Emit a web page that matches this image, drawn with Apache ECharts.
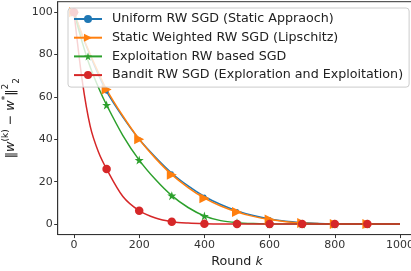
<!DOCTYPE html>
<html>
<head>
<meta charset="utf-8">
<script src="https://cdn.jsdelivr.net/npm/echarts@6/dist/echarts.min.js"></script>
<style>
  html, body { margin: 0; padding: 0; background: #fff; }
  #main { width: 411px; height: 271px; }
</style>
</head>
<body>
<div id="main"></div>
<script>
var rounds = [0, 25, 50, 75, 100, 150, 200, 250, 300, 350, 400, 450, 500, 550, 600, 650, 700, 750, 800, 850, 900, 950, 1000];

var uniformRW   = [100, 89, 79.5, 70.5, 62.5, 50.5, 40, 31.5, 24, 18, 13, 9.2, 6.2, 4, 2.4, 1.3, 0.7, 0.3, 0.1, 0, 0, 0, 0];
var staticRW    = [100, 89.5, 80, 71.5, 63.5, 51, 40, 31, 23.3, 17.2, 12.2, 8.5, 5.7, 3.6, 2.1, 1.1, 0.5, 0.2, 0.05, 0, 0, 0, 0];
var exploitRW   = [100, 86, 74, 64.5, 56.2, 41.8, 30.2, 21, 13.4, 7.8, 3.8, 1.6, 0.6, 0.2, 0.05, 0, 0, 0, 0, 0, 0, 0, 0];
var banditRW    = [100, 68, 46, 34, 26, 13, 6.3, 2.8, 1.1, 0.45, 0.15, 0.05, 0, 0, 0, 0, 0, 0, 0, 0, 0, 0, 0];

var names = [
  'Uniform RW SGD (Static Appraoch)',
  'Static Weighted RW SGD (Lipschitz)',
  'Exploitation RW based SGD',
  'Bandit RW SGD (Exploration and Exploitation)'
];
var xTicks = [0, 200, 400, 600, 800, 1000];
var yTicks = [0, 20, 40, 60, 80, 100];

var FONT = 'DejaVu Sans';
var STAR = 'path://M0,-1 L0.2245,-0.309 L0.951,-0.309 L0.363,0.118 L0.588,0.809 L0,0.382 L-0.588,0.809 L-0.363,0.118 L-0.951,-0.309 L-0.2245,-0.309 Z';

function pairs(vals) {
  return rounds.map(function (r, i) { return [r, vals[i]]; });
}
// markers every 100 rounds, like markevery
function every100(size) {
  return function (v) {
    return (v[0] % 100 === 0 && v[0] < 1000) ? size : 0;
  };
}
function mkSeries(name, vals, color, symbol, size, rot) {
  return {
    name: name,
    type: 'line',
    data: pairs(vals),
    smooth: 0.3,
    showAllSymbol: true,
    symbol: symbol,
    symbolSize: every100(size),
    symbolRotate: rot || 0,
    color: color,
    lineStyle: { width: 1.5, color: color },
    itemStyle: { color: color, borderWidth: 0 },
    emphasis: { disabled: true },
    animation: false
  };
}

var chart = echarts.init(document.getElementById('main'), null, { renderer: 'canvas' });
chart.setOption({
  backgroundColor: '#ffffff',
  animation: false,
  textStyle: { fontFamily: FONT },
  grid: {
    left: 57.7, top: 1.7, right: -5.3, bottom: 36.4,
    containLabel: false, outerBoundsMode: 'none',
    show: true, borderColor: '#333', borderWidth: 1, backgroundColor: 'transparent'
  },
  legend: {
    orient: 'vertical',
    left: 68, top: 8,
    padding: [4, 6, 5, 5],
    itemWidth: 28, itemHeight: 10, itemGap: 4.7,
    backgroundColor: 'rgba(255,255,255,0.8)',
    borderColor: '#cccccc', borderWidth: 1, borderRadius: 3,
    textStyle: { fontFamily: FONT, fontSize: 12.7, color: '#222', lineHeight: 14, padding: [0, 0, 0, 5] },
    data: names
  },
  xAxis: {
    type: 'value', min: -50, max: 1050,
    name: '{n|Round }{i|k}', nameLocation: 'middle', nameGap: 21,
    nameTextStyle: {
      rich: {
        n: { fontFamily: FONT, fontSize: 12.7, color: '#222' },
        i: { fontFamily: FONT, fontSize: 12.7, fontStyle: 'italic', color: '#222' }
      }
    },
    splitLine: { show: false },
    axisLine: { show: true, onZero: false, lineStyle: { color: '#333', width: 1 } },
    axisTick: { show: true, inside: false, length: 3.5, customValues: xTicks, lineStyle: { color: '#333' } },
    axisLabel: {
      customValues: xTicks, fontFamily: FONT, fontSize: 11, color: '#333', margin: 5,
      formatter: function (v) { return String(v); }
    }
  },
  yAxis: {
    type: 'value', min: -5, max: 105,
    name: '{n|‖}{i|w}{s|(k)}{n| − }{i|w}{s|*}{n|‖}{s|2}{b|2}',
    nameLocation: 'middle', nameGap: 35, nameRotate: 90,
    nameTextStyle: {
      rich: {
        n: { fontFamily: FONT, fontSize: 12.7, color: '#222' },
        i: { fontFamily: FONT, fontSize: 12.7, fontStyle: 'italic', color: '#222' },
        s: { fontFamily: FONT, fontSize: 9, color: '#222', verticalAlign: 'top', lineHeight: 20 },
        b: { fontFamily: FONT, fontSize: 9, color: '#222', verticalAlign: 'bottom', lineHeight: 14 }
      }
    },
    splitLine: { show: false },
    axisLine: { show: true, onZero: false, lineStyle: { color: '#333', width: 1 } },
    axisTick: { show: true, inside: false, length: 3.5, customValues: yTicks, lineStyle: { color: '#333' } },
    axisLabel: {
      customValues: yTicks, fontFamily: FONT, fontSize: 11, color: '#333', margin: 5,
      formatter: function (v) { return String(v); }
    }
  },
  series: [
    mkSeries(names[0], uniformRW, '#1f77b4', 'circle', 4),
    mkSeries(names[1], staticRW, '#ff7f0e', 'triangle', 10, -90),
    mkSeries(names[2], exploitRW, '#2ca02c', STAR, 9),
    mkSeries(names[3], banditRW, '#d62728', 'circle', 8.5)
  ]
});
</script>
</body>
</html>
